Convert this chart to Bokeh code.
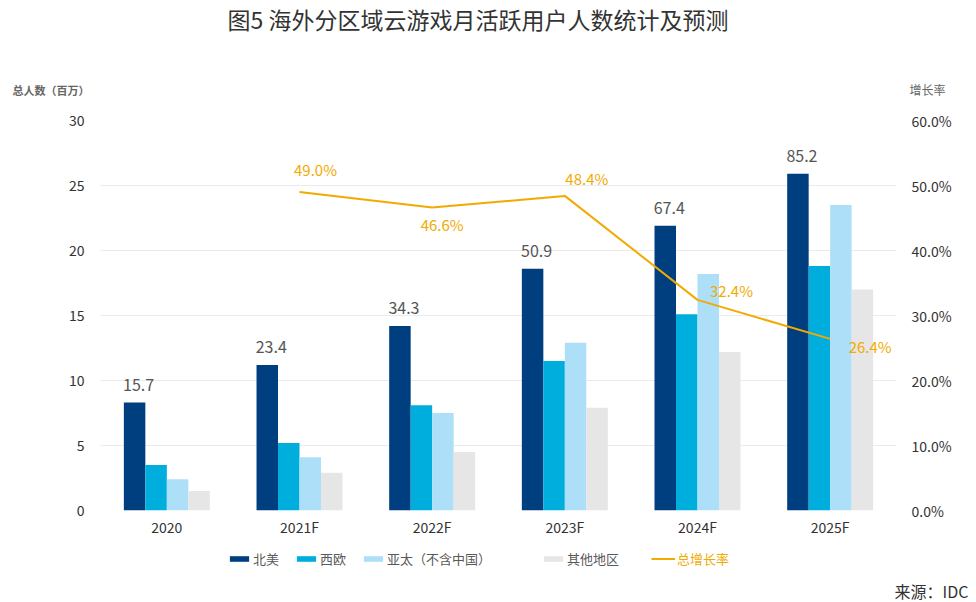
from bokeh.plotting import figure
from bokeh.layouts import column
from bokeh.models import (FactorRange, Range1d, LinearAxis, Label, Legend, LegendItem,
                          ColumnDataSource, PrintfTickFormatter, SingleIntervalTicker)
from bokeh.transform import dodge
from bokeh.core.properties import value
from bokeh.embed import file_html
from bokeh.resources import INLINE

# ---- data ----
years = ["2020", "2021F", "2022F", "2023F", "2024F", "2025F"]
north_america = [8.3, 11.2, 14.2, 18.6, 21.9, 25.9]
west_europe = [3.5, 5.2, 8.1, 11.5, 15.1, 18.8]
asia_pacific = [2.4, 4.1, 7.5, 12.9, 18.2, 23.5]
other_regions = [1.5, 2.9, 4.5, 7.9, 12.2, 17.0]
totals = [15.7, 23.4, 34.3, 50.9, 67.4, 85.2]
growth_years = ["2021F", "2022F", "2023F", "2024F", "2025F"]
growth_rate = [49.0, 46.6, 48.4, 32.4, 26.4]
series_names = ["北美", "西欧", "亚太（不含中国）", "其他地区", "总增长率"]

# ---- styles ----
FONT = "Noto Sans CJK SC"
C_NA, C_WE, C_AP, C_OT, C_LINE = "#003F7F", "#00AEDD", "#ADE0F8", "#E6E6E6", "#F2AA00"
rate_dx = [16, 10, 22, 34, 40]
rate_dy = [-23, 17, -17, -9, 8]
W = 976
TOP_H, MAIN_TOP, FRAME_H, MAIN_BOT = 110, 10, 390, 40
BOT_H = 602 - TOP_H - MAIN_TOP - FRAME_H - MAIN_BOT


def strip(h):
    f = figure(width=W, height=h, x_range=Range1d(0, W), y_range=Range1d(h, 0),
               output_backend="svg", toolbar_location=None, min_border=0)
    f.axis.visible = False
    f.grid.visible = False
    f.outline_line_color = None
    return f


def lab(f, x, y, text, size, color, align="left", style="normal"):
    f.add_layout(Label(x=x, y=y, text=text, text_font=FONT, text_font_size=size,
                       text_color=color, text_align=align, text_baseline="middle",
                       text_font_style=style))


# ---- top strip: title and axis titles ----
top = strip(TOP_H)
lab(top, 480, 18, "图5  海外分区域云游戏月活跃用户人数统计及预测", "23px", "#333333", "center")
lab(top, 12, 89, "总人数（百万）", "11px", "#666666", "left", "bold")
lab(top, 909, 89, "增长率", "12px", "#666666", "left")

# ---- main chart ----
src = ColumnDataSource(dict(year=years, idx=list(range(len(years))),
                            na=north_america, we=west_europe,
                            ap=asia_pacific, ot=other_regions,
                            total_txt=[f"{t:.1f}" for t in totals]))
gsrc = ColumnDataSource(dict(year=growth_years, idx=list(range(len(growth_years))),
                             rate=growth_rate,
                             txt=[f"{g:.1f}%" for g in growth_rate],
                             dx=rate_dx, dy=rate_dy))

p = figure(x_range=FactorRange(*years), y_range=Range1d(0, 30),
           width=W, height=MAIN_TOP + FRAME_H + MAIN_BOT, output_backend="svg",
           toolbar_location=None, min_border_left=100, min_border_right=80,
           min_border_top=MAIN_TOP, min_border_bottom=MAIN_BOT)
p.outline_line_color = None
p.extra_y_ranges = {"rate": Range1d(0, 60)}

BW = 0.162
keys = ["na", "we", "ap", "ot"]
offsets = [-0.243, -0.081, 0.081, 0.243]
colors = [C_NA, C_WE, C_AP, C_OT]
for key, off, c in zip(keys, offsets, colors):
    p.vbar(x=dodge("year", off, range=p.x_range), top=key, width=BW, source=src,
           fill_color=c, line_color=None)

p.text(x=dodge("year", -0.33, range=p.x_range), y="na", text="total_txt", source=src,
       y_offset=-12, text_align="left", text_baseline="bottom",
       text_font=value(FONT), text_font_size="16px", text_color="#555555")

p.line(x="year", y="rate", source=gsrc, y_range_name="rate",
       line_color=C_LINE, line_width=2)
p.text(x="year", y="rate", text="txt", source=gsrc, y_range_name="rate",
       x_offset="dx", y_offset="dy", text_align="center", text_baseline="middle",
       text_font=value(FONT), text_font_size="15px", text_color=C_LINE)

ra = LinearAxis(y_range_name="rate", ticker=SingleIntervalTicker(interval=10),
                formatter=PrintfTickFormatter(format="%.1f%%"))
p.add_layout(ra, "right")
p.yaxis[0].ticker = SingleIntervalTicker(interval=5)
for ax in [p.xaxis[0], p.yaxis[0], ra]:
    ax.axis_line_color = None
    ax.major_tick_line_color = None
    ax.minor_tick_line_color = None
    ax.major_label_text_font = FONT
    ax.major_label_text_font_size = "14px"
    ax.major_label_text_color = "#333333"
p.xaxis.major_label_standoff = 0
p.yaxis[0].major_label_standoff = 10
ra.major_label_standoff = 9

p.xgrid.grid_line_color = None
p.ygrid.grid_line_color = "#EBEBEB"

# ---- bottom strip: legend and source ----
bot = strip(BOT_H)
bot.extra_y_ranges = {"hidden": Range1d(1000, 1001)}   # keeps legend proxies out of view
rs = []
for key, c in zip(keys, colors):
    rs.append(bot.vbar(x="idx", top=key, width=BW, source=src, fill_color=c,
                       line_color=None, y_range_name="hidden"))
rs.append(bot.line(x="idx", y="rate", source=gsrc, line_color=C_LINE, line_width=2,
                   y_range_name="hidden"))


def legend(items, x, color):
    lg = Legend(items=items, location=(x, 34), orientation="horizontal",
                glyph_width=24, glyph_height=7, label_height=14, label_standoff=2,
                spacing=15, padding=0, margin=0, border_line_color=None,
                background_fill_alpha=0, label_text_font=FONT,
                label_text_font_size="13px", label_text_color=color)
    bot.add_layout(lg)


legend([LegendItem(label=series_names[i], renderers=[rs[i]]) for i in range(3)], 227, "#595959")
legend([LegendItem(label=series_names[3], renderers=[rs[3]])], 541, "#595959")
legend([LegendItem(label=series_names[4], renderers=[rs[4]])], 651, C_LINE)
lab(bot, 968, BOT_H - 12, "来源：IDC", "16px", "#333333", "right")

layout = column(column(top), p, column(bot))
open("out.html", "w").write(file_html(layout, INLINE))
